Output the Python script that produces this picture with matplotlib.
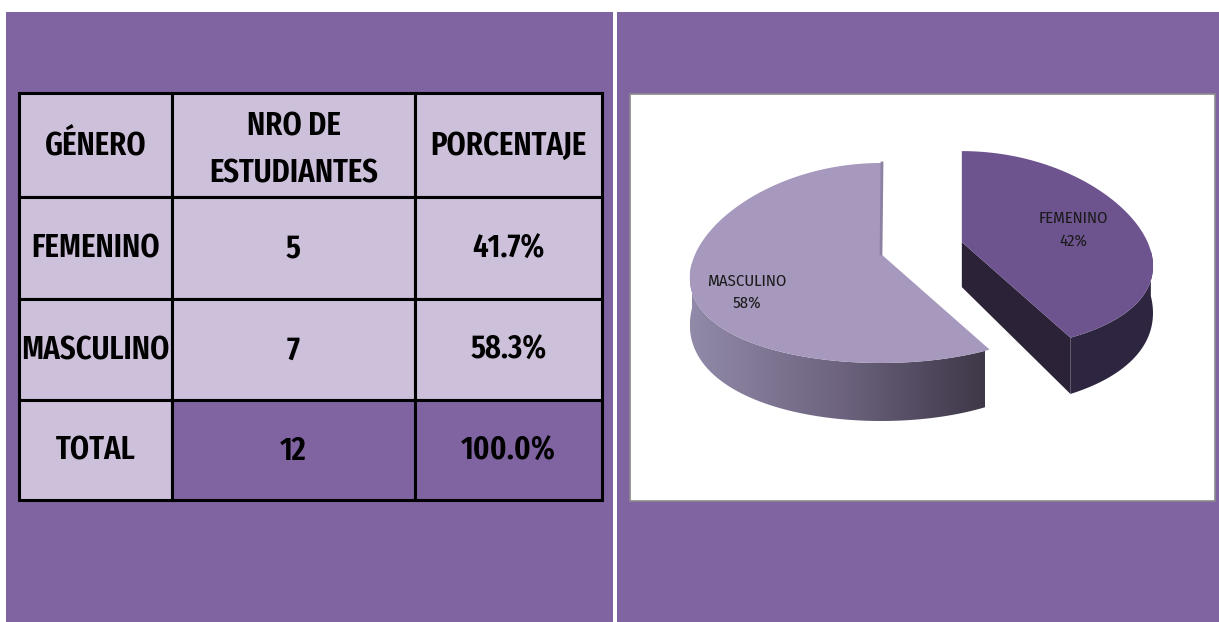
import numpy as np
import matplotlib.pyplot as plt
from matplotlib.patches import Rectangle, Polygon
from matplotlib.colors import LinearSegmentedColormap

# ---- data ----
header = ['GÉNERO', 'NRO DE\nESTUDIANTES', 'PORCENTAJE']
generos = ['FEMENINO', 'MASCULINO']
estudiantes = [5, 7]
total_label = 'TOTAL'

total = sum(estudiantes)
porcentajes = [f'{100 * v / total:.1f}%' for v in estudiantes]

# ---- colours ----
bg_purple = '#8064A2'
lavender = '#CCC0DA'
masc_top = '#A699BD'
fem_top = '#6E548F'
fem_side = '#2B2237'

tfont = ['Fira Sans Extra Condensed', 'DejaVu Sans']
lfont = ['Fira Sans Condensed', 'DejaVu Sans']

fig = plt.figure(figsize=(12.19, 6.22), dpi=100)
ax = fig.add_axes([0, 0, 1, 1])
ax.set_xlim(0, 1219)
ax.set_ylim(622, 0)
ax.axis('off')

# panels
ax.add_patch(Rectangle((6, 12), 607, 615, color=bg_purple, lw=0))
ax.add_patch(Rectangle((617, 12), 610, 615, color=bg_purple, lw=0))
ax.add_patch(Rectangle((630, 94), 585, 407, facecolor='white', edgecolor='#8a8a8a', lw=1.2))

# ---- table ----
col_x = [19, 172, 415, 602]
row_y = [93, 197, 299, 400, 500]
rows = [header]
for g, n, p in zip(generos, estudiantes, porcentajes):
    rows.append([g, str(n), p])
rows.append([total_label, str(total), '100.0%'])

for r, row in enumerate(rows):
    for c, txt in enumerate(row):
        x0, x1 = col_x[c], col_x[c + 1]
        y0, y1 = row_y[r], row_y[r + 1]
        fc = bg_purple if (r == len(rows) - 1 and c > 0) else lavender
        ax.add_patch(Rectangle((x0, y0), x1 - x0, y1 - y0, facecolor=fc,
                               edgecolor='black', lw=2.2))
        dy = 5 if (r == 0 and c == 1) else 1
        ax.text((x0 + x1) / 2, (y0 + y1) / 2 + dy, txt, ha='center', va='center',
                fontsize=24, fontweight='semibold', family=tfont, color='black',
                linespacing=1.6)

# ---- 3D pie ----
cx, cy = 881, 263
a, b, kx = 189, 100, 0.15
vshift = -9
explode = 0.46


def proj(x0, y0, t, r=1.0):
    s = 1 / (1 + kx * np.sin(t))
    return x0 + a * r * np.cos(t) * s, y0 - b * r * np.sin(t)


def depth(t):
    return 45 - 13 * np.sin(t)


fracs = np.array(estudiantes) / total
start = np.pi / 2
angles = []
for f in fracs:
    angles.append((start, start - 2 * np.pi * f))
    start -= 2 * np.pi * f

# femenino (first slice), exploded
t0, t1 = angles[0]
mid = (t0 + t1) / 2
fx, fy = proj(cx, cy, mid, explode)
vx, vy = fx, fy + vshift

# femenino radial face at end angle
rx, ry = proj(fx, fy, t1)
ax.add_patch(Polygon([(vx, vy), (rx, ry), (rx, ry + depth(t1)), (vx, vy + 45)],
                     closed=True, facecolor=fem_side, lw=0))
# femenino curved side (front part)
ts = np.linspace(0, t1, 60)
top = [proj(fx, fy, t) for t in ts]
bot = [(x, y + depth(t)) for (x, y), t in zip(top, ts)]
ax.add_patch(Polygon(top + bot[::-1], closed=True, facecolor='#2E2540', lw=0))
# femenino top
ts = np.linspace(t0, t1, 120)
pts = [(vx, vy)] + [proj(fx, fy, t) for t in ts]
ax.add_patch(Polygon(pts, closed=True, facecolor=fem_top, lw=0))
ax.text(1073, 218, generos[0], ha='center', va='center', fontsize=12,
        family=lfont, color='#1a1a1a')
ax.text(1073, 241, f'{round(fracs[0] * 100)}%', ha='center', va='center',
        fontsize=12, family=lfont, color='#1a1a1a')

# masculino curved side with gradient
m0, m1 = angles[1]
ts = np.linspace(m0, -np.pi, 80)
top = [proj(cx, cy, t) for t in ts]
bot = [(x, y + depth(t)) for (x, y), t in zip(top, ts)]
side = Polygon(top + bot[::-1], closed=True, facecolor='none', lw=0)
ax.add_patch(side)
grad = np.linspace(0, 1, 256).reshape(1, -1)
cmap = LinearSegmentedColormap.from_list('g', ['#918AA8', '#6E6480', '#3E3848'])
im = ax.imshow(grad, extent=(690, 985, 440, 240), cmap=cmap, aspect='auto',
               interpolation='bilinear', zorder=1)
im.set_clip_path(side)
ax.set_xlim(0, 1219)
ax.set_ylim(622, 0)

# masculino top
ts = np.linspace(m0, m1, 200)
pts = [(cx, cy + vshift)] + [proj(cx, cy, t) for t in ts]
ax.add_patch(Polygon(pts, closed=True, facecolor=masc_top, lw=0, zorder=2))
tx, ty = proj(cx, cy, np.pi / 2)
ax.plot([tx + 1, cx], [ty, cy + vshift], color='#8C80A3', lw=2, zorder=3)
ax.text(747, 281, generos[1], ha='center', va='center', fontsize=12,
        family=lfont, color='#1a1a1a', zorder=4)
ax.text(747, 303, f'{round(fracs[1] * 100)}%', ha='center', va='center',
        fontsize=12, family=lfont, color='#1a1a1a', zorder=4)

fig.savefig('out.png', dpi=100, facecolor='white')
